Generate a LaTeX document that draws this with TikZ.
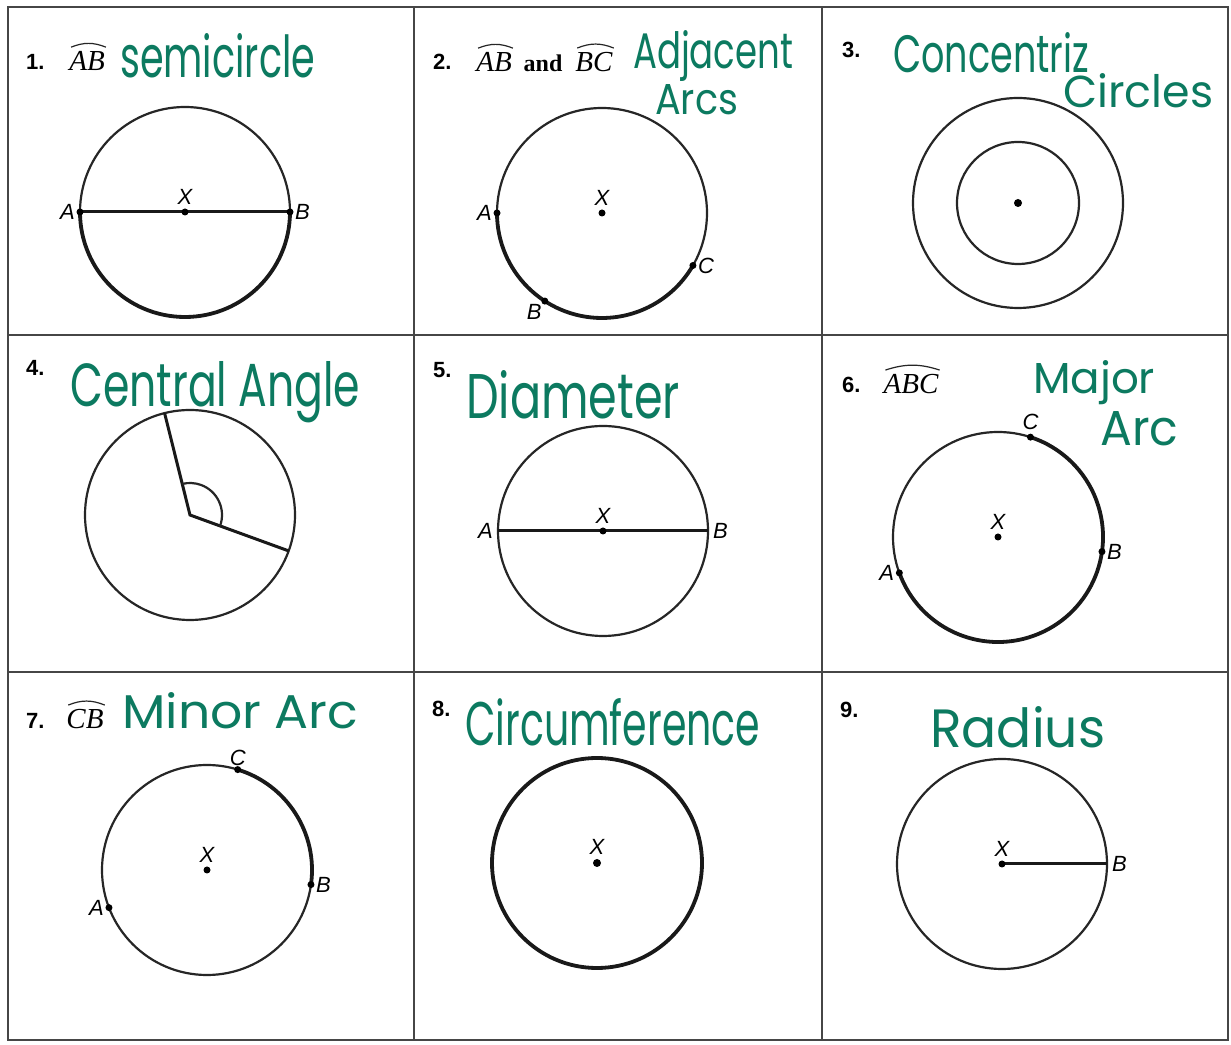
\documentclass[tikz,border=0pt]{standalone}
\usepackage{fontspec}
\usepackage{graphicx}
\setmainfont{Liberation Sans}
\newfontfamily\timesfont{Liberation Serif}
\newfontfamily\handfont{Poppins}
\usetikzlibrary{calc}
\definecolor{InkGreen}{RGB}{12,122,96}
\definecolor{RuleGray}{RGB}{70,70,70}
\tikzset{
  rim/.style={line width=2.2pt,black!85},
  rimthick/.style={line width=3.8pt,black!90},
  chord/.style={line width=3pt,black!90},
  grid/.style={line width=2pt,RuleGray},
  num/.style={font=\bfseries\fontsize{22}{24}\selectfont,anchor=west,inner sep=0pt},
  arcname/.style={font=\timesfont\itshape\fontsize{29}{31}\selectfont,inner sep=1pt},
  andword/.style={font=\timesfont\bfseries\fontsize{24}{26}\selectfont,inner sep=1pt},
  overarc/.style={line width=1.2pt,black!85},
  ptname/.style={font=\itshape\fontsize{22}{24}\selectfont,inner sep=2pt},
  hand/.style={text=InkGreen,inner sep=0pt,anchor=base west}
}
\newcommand{\handw}[3]{\resizebox{#1pt}{#2pt}{\handfont #3}}

\begin{document}
\begin{tikzpicture}[x=1pt,y=1pt]

\useasboundingbox (0,0) rectangle (1231,1044);
\fill[white] (0,0) rectangle (1231,1044);

% grid of nine boxes
\draw[grid] (8,4) rectangle (1228,1037);
\draw[grid] (414,4) -- (414,1037);
\draw[grid] (822,4) -- (822,1037);
\draw[grid] (8,709) -- (1228,709);
\draw[grid] (8,372) -- (1228,372);

% 1. semicircle
\node[num] (n1) at (26,982) {1.};
\node[arcname] (t1) at (87,983) {AB};
\draw[overarc] ([xshift=3pt,yshift=3pt]t1.north west) to[bend left=22] ([yshift=3pt]t1.north east);
\node[hand] (h1) at (120,966) {\handw{195}{44}{semicircle}};
\coordinate (x1) at (185,832);
\coordinate (a1) at ($(x1)+(180:105)$);
\coordinate (b1) at ($(x1)+(0:105)$);
\draw[rim] (x1) circle[radius=105];
\draw[rimthick] (a1) arc[start angle=180,end angle=360,radius=105];
\draw[chord] (a1) -- (b1);
\fill (a1) circle[radius=3.5];
\fill (b1) circle[radius=3.5];
\fill (x1) circle[radius=3.5];
\node[ptname,left=3pt] (la1) at (a1) {A};
\node[ptname,right=3pt] (lb1) at (b1) {B};
\node[ptname,above=5pt] (lx1) at (x1) {X};

% 2. adjacent arcs
\node[num] (n2) at (433,982) {2.};
\node[arcname] (t2a) at (494,982) {AB};
\draw[overarc] ([xshift=3pt,yshift=3pt]t2a.north west) to[bend left=22] ([yshift=3pt]t2a.north east);
\node[andword] (t2and) at (543,981) {and};
\node[arcname] (t2b) at (594,982) {BC};
\draw[overarc] ([xshift=3pt,yshift=3pt]t2b.north west) to[bend left=22] ([yshift=3pt]t2b.north east);
\node[hand] (h2a) at (633,975) {\handw{160}{38}{Adjacent}};
\node[hand] (h2b) at (655,929) {\handw{83}{30}{Arcs}};
\coordinate (x2) at (602,831);
\coordinate (a2) at ($(x2)+(180:105)$);
\coordinate (b2) at ($(x2)+(237:105)$);
\coordinate (c2) at ($(x2)+(330:105)$);
\draw[rim] (x2) circle[radius=105];
\draw[rimthick] (a2) arc[start angle=180,end angle=330,radius=105];
\fill (a2) circle[radius=3.5];
\fill (b2) circle[radius=3.5];
\fill (c2) circle[radius=3.5];
\fill (x2) circle[radius=3.5];
\node[ptname,left=3pt] (la2) at (a2) {A};
\node[ptname,below left=1pt] (lb2) at (b2) {B};
\node[ptname,right=3pt] (lc2) at (c2) {C};
\node[ptname,above=5pt] (lx2) at (x2) {X};

% 3. concentric circles
\node[num] (n3) at (842,994) {3.};
\node[hand] (h3a) at (893,971) {\handw{196}{40}{Concentriz}};
\node[hand] (h3b) at (1063,936) {\handw{150}{34}{Circles}};
\coordinate (x3) at (1018,841);
\draw[rim] (x3) circle[radius=105];
\draw[rim] (x3) circle[radius=61];
\fill (x3) circle[radius=4];

% 4. central angle
\node[num] (n4) at (26,676) {4.};
\node[hand] (h4) at (70,637) {\handw{290}{45}{Central Angle}};
\coordinate (x4) at (190,529);
\coordinate (p4) at ($(x4)+(104:105)$);
\coordinate (q4) at ($(x4)+(-20:105)$);
\draw[rim] (x4) circle[radius=105];
\draw[chord] (p4) -- (x4) -- (q4);
\draw[rim] ($(x4)+(-20:32)$) arc[start angle=-20,end angle=104,radius=32];

% 5. diameter
\node[num] (n5) at (433,674) {5.};
\node[hand] (h5) at (466,625) {\handw{214}{48}{Diameter}};
\coordinate (x5) at (603,513);
\coordinate (a5) at ($(x5)+(180:105)$);
\coordinate (b5) at ($(x5)+(0:105)$);
\draw[rim] (x5) circle[radius=105];
\draw[chord] (a5) -- (b5);
\fill (x5) circle[radius=3.5];
\node[ptname,left=3pt] (la5) at (a5) {A};
\node[ptname,right=3pt] (lb5) at (b5) {B};
\node[ptname,above=5pt] (lx5) at (x5) {X};

% 6. major arc
\node[num] (n6) at (842,659) {6.};
\node[arcname] (t6) at (911,660) {ABC};
\draw[overarc] ([xshift=3pt,yshift=3pt]t6.north west) to[bend left=18] ([yshift=3pt]t6.north east);
\node[hand] (h6a) at (1033,650) {\handw{122}{33}{Major}};
\node[hand] (h6b) at (1100,598) {\handw{78}{34}{Arc}};
\coordinate (x6) at (998,507);
\coordinate (a6) at ($(x6)+(200:105)$);
\coordinate (b6) at ($(x6)+(352:105)$);
\coordinate (c6) at ($(x6)+(72:105)$);
\draw[rim] (x6) circle[radius=105];
\draw[rimthick] (a6) arc[start angle=200,end angle=432,radius=105];
\fill (a6) circle[radius=3.5];
\fill (b6) circle[radius=3.5];
\fill (c6) circle[radius=3.5];
\fill (x6) circle[radius=3.5];
\node[ptname,left=3pt] (la6) at (a6) {A};
\node[ptname,right=3pt] (lb6) at (b6) {B};
\node[ptname,above=5pt] (lc6) at (c6) {C};
\node[ptname,above=5pt] (lx6) at (x6) {X};

% 7. minor arc
\node[num] (n7) at (26,323) {7.};
\node[arcname] (t7) at (85,325) {CB};
\draw[overarc] ([xshift=3pt,yshift=3pt]t7.north west) to[bend left=22] ([yshift=3pt]t7.north east);
\node[hand] (h7) at (122,315) {\handw{236}{36}{Minor Arc}};
\coordinate (x7) at (207,174);
\coordinate (a7) at ($(x7)+(201:105)$);
\coordinate (b7) at ($(x7)+(-8:105)$);
\coordinate (c7) at ($(x7)+(73:105)$);
\draw[rim] (x7) circle[radius=105];
\draw[rimthick] (b7) arc[start angle=-8,end angle=73,radius=105];
\fill (a7) circle[radius=3.5];
\fill (b7) circle[radius=3.5];
\fill (c7) circle[radius=3.5];
\fill (x7) circle[radius=3.5];
\node[ptname,left=3pt] (la7) at (a7) {A};
\node[ptname,right=3pt] (lb7) at (b7) {B};
\node[ptname,above=2pt] (lc7) at (c7) {C};
\node[ptname,above=5pt] (lx7) at (x7) {X};

% 8. circumference
\node[num] (n8) at (432,335) {8.};
\node[hand] (h8) at (465,298) {\handw{295}{47}{Circumference}};
\coordinate (x8) at (597,181);
\draw[rimthick] (x8) circle[radius=105];
\fill (x8) circle[radius=4];
\node[ptname,above=6pt] (lx8) at (x8) {X};

% 9. radius
\node[num] (n9) at (840,334) {9.};
\node[hand] (h9) at (930,296) {\handw{175}{41}{Radius}};
\coordinate (x9) at (1002,180);
\coordinate (b9) at ($(x9)+(0:105)$);
\draw[rim] (x9) circle[radius=105];
\draw[chord] (x9) -- (b9);
\fill (x9) circle[radius=3.5];
\node[ptname,right=3pt] (lb9) at (b9) {B};
\node[ptname,above=5pt] (lx9) at (x9) {X};

\end{tikzpicture}
\end{document}
